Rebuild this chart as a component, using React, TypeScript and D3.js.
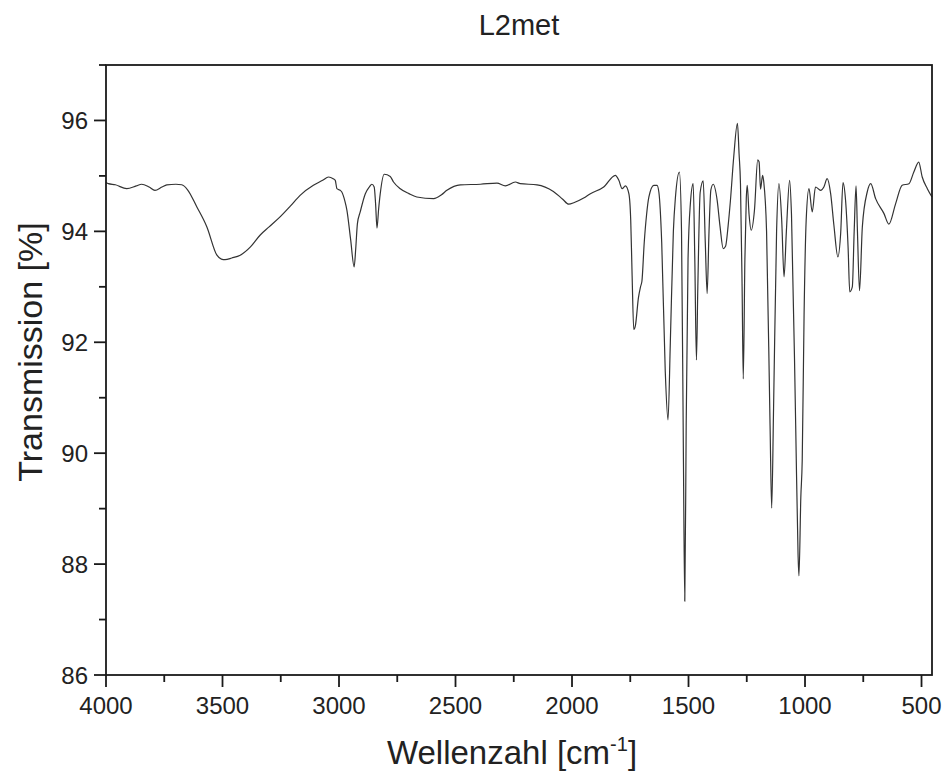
import React from "react";
import * as d3 from "d3";

const TITLE = "L2met";
const wavenumbers = [
  4000, 3990, 3960, 3911, 3870, 3847, 3815, 3790, 3760, 3739, 3700, 3675, 3650, 3610, 3567, 3524, 3505, 3489, 3460, 3424,
  3380, 3339, 3300, 3253, 3210, 3167, 3110, 3070, 3045, 3025, 3016, 3009, 2995, 2988, 2975, 2966, 2950, 2935, 2928, 2921,
  2909, 2887, 2870, 2859, 2849, 2843, 2837, 2830, 2823, 2806, 2780, 2766, 2737, 2700, 2666, 2594, 2560, 2537, 2479, 2393,
  2322, 2286, 2243, 2222, 2150, 2080, 2040, 2014, 1990, 1950, 1921, 1864, 1814, 1799, 1785, 1771, 1756, 1748, 1742, 1735,
  1728, 1715, 1706, 1700, 1690, 1680, 1670, 1649, 1635, 1627, 1615, 1600, 1588, 1578, 1565, 1556, 1539, 1530, 1522, 1516,
  1510, 1502, 1492, 1480, 1473, 1466, 1460, 1450, 1437, 1428, 1420, 1412, 1404, 1394, 1377, 1365, 1351, 1341, 1330, 1320,
  1306, 1290, 1283, 1277, 1270, 1265, 1258, 1252, 1248, 1240, 1231, 1217, 1203, 1197, 1191, 1182, 1177, 1165, 1150, 1143,
  1135, 1122, 1112, 1100, 1090, 1080, 1066, 1058, 1040, 1030, 1026, 1018, 1012, 1004, 995, 983, 969, 955, 933, 919,
  905, 890, 876, 859, 847, 837, 826, 815, 808, 797, 789, 781, 775, 766, 754, 733, 718, 697, 661, 640,
  611, 583, 554, 533, 512, 497, 475, 455,
];
const transmission = [
  94.88, 94.86, 94.84, 94.77, 94.82, 94.85, 94.8, 94.74, 94.8, 94.84, 94.85, 94.84, 94.75, 94.44, 94.08, 93.57, 93.5, 93.49, 93.52, 93.57,
  93.72, 93.93, 94.08, 94.26, 94.45, 94.65, 94.83, 94.92, 94.98, 94.95, 94.92, 94.77, 94.74, 94.71, 94.55, 94.38, 93.85, 93.36, 93.7, 94.14,
  94.35, 94.68, 94.8, 94.85, 94.8, 94.5, 94.06, 94.4, 94.68, 95.03, 94.99, 94.89, 94.77, 94.68, 94.62, 94.59, 94.66, 94.74, 94.84, 94.85,
  94.87, 94.82, 94.89, 94.86, 94.84, 94.72, 94.58, 94.49, 94.52, 94.6, 94.68, 94.8, 95.01, 94.92, 94.77, 94.82, 94.68, 94.2, 93.2, 92.23,
  92.3, 92.8, 93.0, 93.1, 93.8, 94.3, 94.62, 94.83, 94.83, 94.7, 93.8, 91.5, 90.6, 92.0, 94.0, 94.62, 95.07, 94.0, 90.0, 87.33,
  90.5, 93.5, 94.5, 94.86, 93.5, 91.68, 93.0, 94.7, 94.91, 93.8, 92.88, 94.0, 94.75, 94.85, 94.56, 94.1, 93.69, 93.73, 94.1, 94.56,
  95.34, 95.95, 95.4, 94.86, 93.0, 91.34, 93.5, 94.6, 94.83, 94.3, 94.02, 94.38, 95.29, 95.25, 94.76, 95.01, 94.89, 94.0, 90.5, 89.01,
  90.8, 94.0, 94.86, 94.2, 93.18, 94.0, 94.92, 94.3, 90.5, 88.2, 87.79, 89.2, 89.87, 92.5, 94.2, 94.77, 94.35, 94.8, 94.74, 94.8,
  94.95, 94.68, 94.11, 93.54, 93.96, 94.88, 94.56, 93.7, 92.91, 93.0, 94.0, 94.82, 94.0, 92.93, 94.08, 94.71, 94.86, 94.59, 94.32, 94.13,
  94.5, 94.83, 94.86, 95.07, 95.25, 94.98, 94.77, 94.62,
];
const xMajorTicks = [4000, 3500, 3000, 2500, 2000, 1500, 1000, 500];
const xMinorTicks = [3750, 3250, 2750, 2250, 1750, 1250, 750];
const yMajorTicks = [86, 88, 90, 92, 94, 96];
const yMinorTicks = [87, 89, 91, 93, 95, 97];

const W = 945;
const H = 781;
const M = { left: 106, right: 932, top: 65, bottom: 675 };
const FONT = "'Liberation Sans', Arial, sans-serif";

export default function App() {
  const x = d3.scaleLinear().domain([4000, 455]).range([M.left, M.right]);
  const y = d3.scaleLinear().domain([86, 97]).range([M.bottom, M.top]);
  const pts: [number, number][] = wavenumbers.map((w, i) => [w, transmission[i]]);
  const line = d3
    .line<[number, number]>()
    .x((d) => x(d[0]))
    .y((d) => y(d[1]))
    .curve(d3.curveMonotoneX);
  const cx = (M.left + M.right) / 2;
  return (
    <svg width={W} height={H} style={{ position: "absolute", left: 0, top: 0, background: "#fff" }} fontFamily={FONT}>
      <rect x={0} y={0} width={W} height={H} fill="#fff" />
      <text x={cx} y={35} textAnchor="middle" fontSize={29} fill="#222">
        {TITLE}
      </text>
      <path d={line(pts) || ""} fill="none" stroke="#333" strokeWidth={1.2} strokeLinejoin="round" />
      <rect x={M.left} y={M.top} width={M.right - M.left} height={M.bottom - M.top} fill="none" stroke="#1a1a1a" strokeWidth={1.8} />
      {xMajorTicks.map((t) => (
        <g key={"xM" + t}>
          <line x1={x(t)} x2={x(t)} y1={M.bottom} y2={M.bottom + 12} stroke="#1a1a1a" strokeWidth={1.8} />
          <text x={x(t)} y={M.bottom + 39} textAnchor="middle" fontSize={24} fill="#222">
            {t}
          </text>
        </g>
      ))}
      {xMinorTicks.map((t) => (
        <line key={"xm" + t} x1={x(t)} x2={x(t)} y1={M.bottom} y2={M.bottom + 7} stroke="#1a1a1a" strokeWidth={1.8} />
      ))}
      {yMajorTicks.map((t) => (
        <g key={"yM" + t}>
          <line x1={M.left - 12} x2={M.left} y1={y(t)} y2={y(t)} stroke="#1a1a1a" strokeWidth={1.8} />
          <text x={M.left - 18} y={y(t) + 8.5} textAnchor="end" fontSize={24} fill="#222">
            {t}
          </text>
        </g>
      ))}
      {yMinorTicks.map((t) => (
        <line key={"ym" + t} x1={M.left - 7} x2={M.left} y1={y(t)} y2={y(t)} stroke="#1a1a1a" strokeWidth={1.8} />
      ))}
      <text x={512} y={764} textAnchor="middle" fontSize={33} fill="#222">
        Wellenzahl [cm<tspan dy={-13} fontSize={20}>-1</tspan>
        <tspan dy={13}>]</tspan>
      </text>
      <text transform={`translate(42,352) rotate(-90)`} textAnchor="middle" fontSize={34} fill="#222">
        Transmission [%]
      </text>
    </svg>
  );
}
